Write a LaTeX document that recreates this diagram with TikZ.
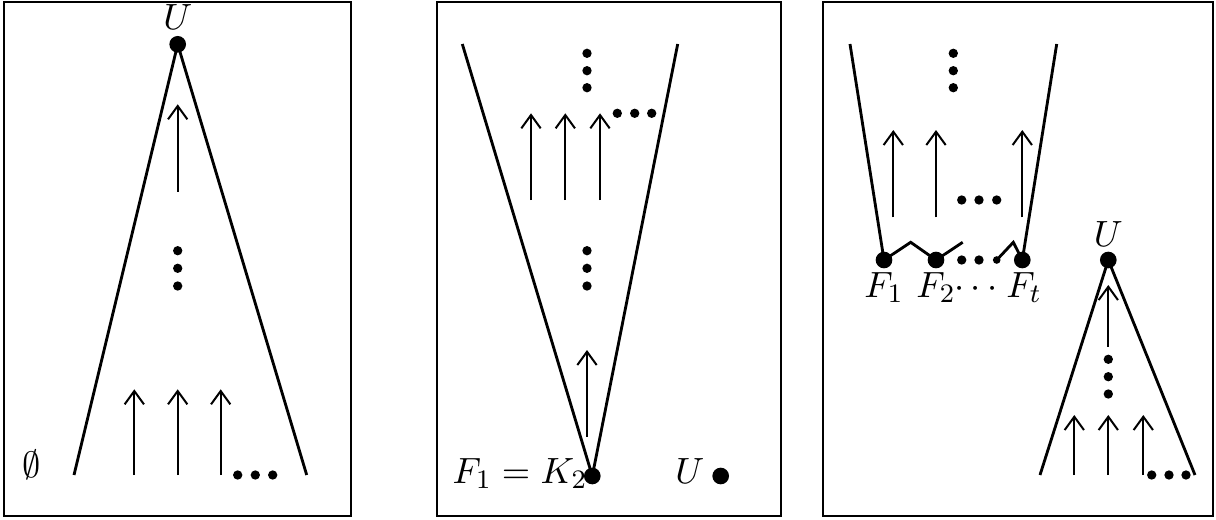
\documentclass[tikz,border=0pt]{standalone}
\usetikzlibrary{arrows.meta}
\begin{document}
\begin{tikzpicture}[x=0.3pt,y=-0.3pt,
  frame/.style={draw,line width=0.65pt},
  edge/.style={line width=0.85pt},
  arr/.style={-{Straight Barb[length=4pt,width=5.8pt,line width=0.6pt]},line width=0.6pt},
  bigdot/.style={circle,fill,inner sep=0pt,minimum size=5pt},
  sdot/.style={circle,fill,inner sep=0pt,minimum size=2.8pt},
  tdot/.style={circle,fill,inner sep=0pt,minimum size=2.3pt},
  lab/.style={inner sep=0pt,font=\fontsize{11}{13}\selectfont}]
\useasboundingbox (0,0) rectangle (1216,519);
% frames
\draw[frame] (4,2) rectangle (351,516);
\draw[frame] (437,2) rectangle (781,516);
\draw[frame] (823,2) rectangle (1213,516);

% ---------- panel 1 ----------
\node[bigdot] (U1) at (177.7,44.3) {};
\node[lab,anchor=base] (U1l) at (177.7,29) {$U$};
\coordinate (p1l) at (74,475);
\coordinate (p1r) at (306.7,475);
\draw[edge] (p1l) -- (U1.center) -- (p1r);
\coordinate (p1as) at (177.7,191.7); \coordinate (p1ae) at (177.7,104.3);
\draw[arr] (p1as) -- (p1ae);
\node[sdot] (p1v1) at (177.7,250.7) {};
\node[sdot] (p1v2) at (177.7,268.3) {};
\node[sdot] (p1v3) at (177.7,286) {};
\foreach \x/\n in {134.3/a,177.7/b,220.7/c}{
  \coordinate (p1b\n s) at (\x,475); \coordinate (p1b\n e) at (\x,389.3);
  \draw[arr] (p1b\n s) -- (p1b\n e);}
\node[sdot] (p1h1) at (237.7,475) {};
\node[sdot] (p1h2) at (255.3,475) {};
\node[sdot] (p1h3) at (272.7,475) {};
\node[lab] (empty) at (31.7,465) {$\emptyset$};

% ---------- panel 2 ----------
\node[bigdot] (K2) at (592.3,476) {};
\coordinate (p2l) at (462.3,44);
\coordinate (p2r) at (677.7,44);
\draw[edge] (p2l) -- (K2.center) -- (p2r);
\foreach \x/\n in {531/a,565.3/b,600/c}{
  \coordinate (p2t\n s) at (\x,200); \coordinate (p2t\n e) at (\x,113.3);
  \draw[arr] (p2t\n s) -- (p2t\n e);}
\node[sdot] (p2h1) at (617.3,113.3) {};
\node[sdot] (p2h2) at (634.7,113.3) {};
\node[sdot] (p2h3) at (651.7,113.3) {};
\node[sdot] (p2v1) at (587,53.3) {};
\node[sdot] (p2v2) at (587,70.7) {};
\node[sdot] (p2v3) at (587,87.7) {};
\node[sdot] (p2m1) at (587,250.7) {};
\node[sdot] (p2m2) at (587,268.3) {};
\node[sdot] (p2m3) at (587,286) {};
\coordinate (p2as) at (587,436.7); \coordinate (p2ae) at (587,350);
\draw[arr] (p2as) -- (p2ae);
\node[lab,anchor=base east] (F1K2) at (588,483) {$F_1=K_2$};
\node[bigdot] (U2) at (720.7,476) {};
\node[lab,anchor=base east] (U2l) at (705,483) {$U$};

% ---------- panel 3 ----------
\node[bigdot] (F1) at (884,260) {};
\node[bigdot] (F2) at (936,260) {};
\node[bigdot] (Ft) at (1022.3,260) {};
\coordinate (p3l) at (850,44);
\coordinate (p3r) at (1056.7,44);
\draw[edge] (p3l) -- (F1.center);
\draw[edge] (p3r) -- (Ft.center);
\coordinate (z1) at (910.7,242.3);
\coordinate (z2) at (962.7,242.3);
\coordinate (z3) at (1013.3,242.3);
\node[sdot] (g1) at (961.7,260) {};
\node[sdot] (g2) at (979,260) {};
\node[tdot] (g3) at (996.7,260) {};
\draw[edge] (F1.center) -- (z1) -- (F2.center) -- (z2);
\draw[edge] (g3.center) -- (z3) -- (Ft.center);
\node[lab,anchor=base] (F1l) at (884,297) {$F_1$};
\node[lab,anchor=base] (F2l) at (936,297) {$F_2$};
\node[lab,anchor=base] (dd) at (976,297) {$\cdots$};
\node[lab,anchor=base] (Ftl) at (1024,297) {$F_t$};
\foreach \x/\n in {893.3/a,936/b,1022.3/c}{
  \coordinate (p3t\n s) at (\x,217.3); \coordinate (p3t\n e) at (\x,130);
  \draw[arr] (p3t\n s) -- (p3t\n e);}
\node[sdot] (p3h1) at (961.7,200) {};
\node[sdot] (p3h2) at (979,200) {};
\node[sdot] (p3h3) at (996.7,200) {};
\node[sdot] (p3v1) at (953.3,53.3) {};
\node[sdot] (p3v2) at (953.3,70.7) {};
\node[sdot] (p3v3) at (953.3,87.7) {};
% small tree
\node[bigdot] (U3) at (1108.3,260) {};
\node[lab,anchor=base] (U3l) at (1108.3,246) {$U$};
\coordinate (p3bl) at (1040,475);
\coordinate (p3br) at (1195,475);
\draw[edge] (p3bl) -- (U3.center) -- (p3br);
\coordinate (p3as) at (1108.3,346.7); \coordinate (p3ae) at (1108.3,285);
\draw[arr] (p3as) -- (p3ae);
\node[sdot] (p3m1) at (1108.3,359.3) {};
\node[sdot] (p3m2) at (1108.3,376.7) {};
\node[sdot] (p3m3) at (1108.3,394) {};
\foreach \x/\n in {1074.3/a,1108.3/b,1143.3/c}{
  \coordinate (p3b\n s) at (\x,475); \coordinate (p3b\n e) at (\x,415);
  \draw[arr] (p3b\n s) -- (p3b\n e);}
\node[sdot] (p3q1) at (1151.7,475) {};
\node[sdot] (p3q2) at (1169,475) {};
\node[sdot] (p3q3) at (1186,475) {};
\end{tikzpicture}
\end{document}
